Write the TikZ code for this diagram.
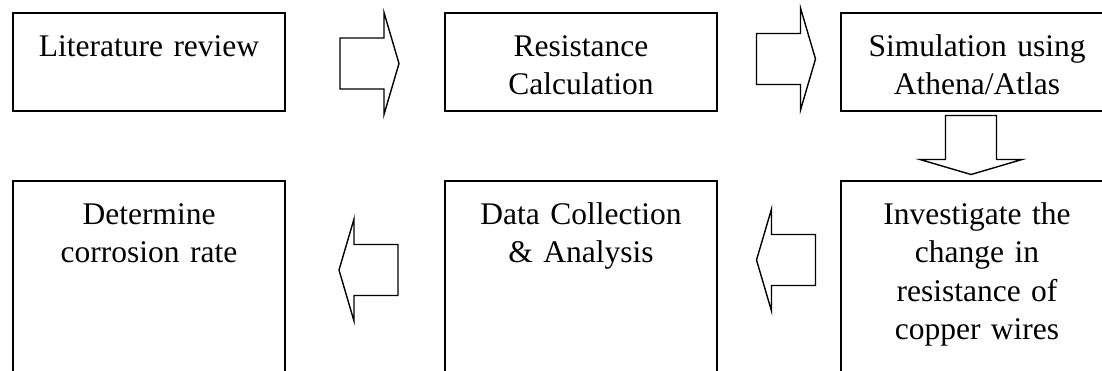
\documentclass[tikz,border=0pt]{standalone}
\usepackage{fontspec}
\setmainfont{Liberation Serif}
\usepackage{tikz}
\usetikzlibrary{positioning,calc}

\begin{document}
\begin{tikzpicture}[
  x=1pt, y=1pt,
  mybox/.style={
    draw,
    line width=2pt,
    rectangle,
    inner xsep=24pt,
    inner ysep=0pt,
    text width=224pt,
    align=center,
    text height=43pt,
    text depth=#1,
    font=\fontsize{31.5}{38.5}\selectfont
    },
  myarrow/.pic={
    \draw[line width=1.4pt, line join=miter]
      (-29.5,-25.5) -- (14.5,-25.5) -- (14.5,-51) -- (29.5,0)
      -- (14.5,51) -- (14.5,25.5) -- (-29.5,25.5) -- cycle;
  }
]
\useasboundingbox (0,0) rectangle (1102,-370);
\clip (0,0) rectangle (1102,-370);

% top row
\node[mybox=55pt, anchor=north west] (lit) at (12,-12) {Literature review};
\node[mybox=55pt, right=158pt of lit] (res) {Resistance\\ Calculation};
\node[mybox=55pt, right=122pt of res] (sim) {Simulation using\\ Athena/Atlas};

% bottom row
\node[mybox=200pt, below=68pt of lit] (det) {Determine\\ corrosion rate};
\node[mybox=200pt, right=158pt of det] (data) {Data Collection\\ \& Analysis};
\node[mybox=200pt, right=122pt of data] (inv) {Investigate the\\ change in\\ resistance of\\ copper wires};

% block arrows
\pic at ($(lit.east)+(83.5,-1.5)$) {myarrow};
\pic at ($(res.east)+(68,3)$) {myarrow};
\pic[rotate=-90] at ($(sim.south)+(-6,-33)$) {myarrow};
\pic[rotate=180] at ($(data.north west)+(-75.5,-90)$) {myarrow};
\pic[rotate=180] at ($(inv.north west)+(-54,-80)$) {myarrow};

\end{tikzpicture}
\end{document}
